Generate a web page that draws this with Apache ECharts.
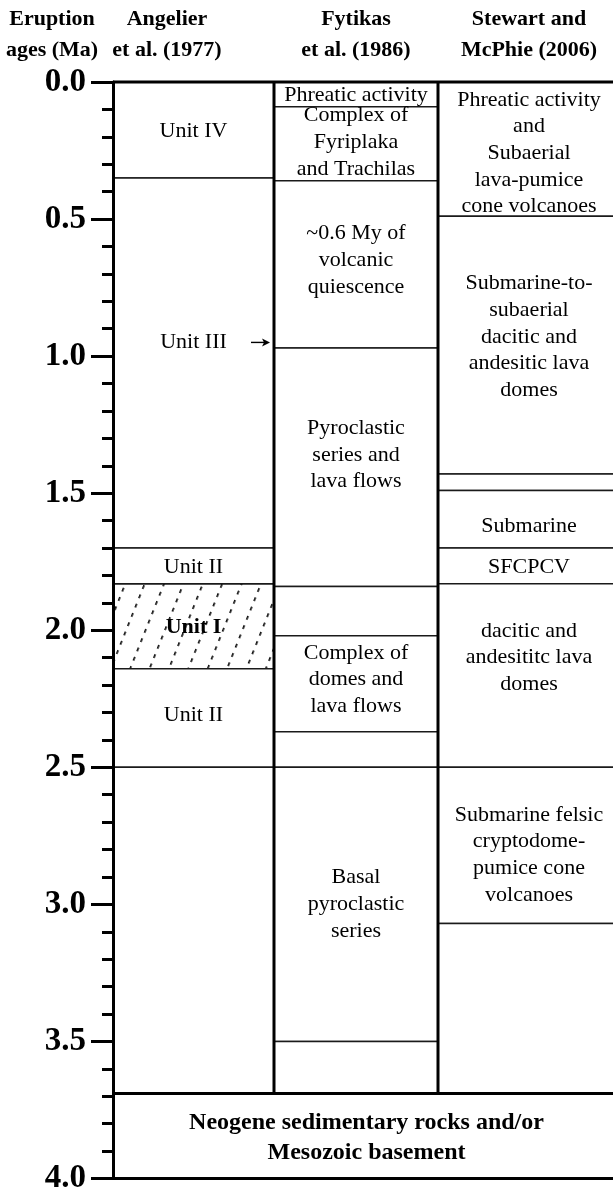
<!DOCTYPE html>
<html>
<head>
<meta charset="utf-8">
<script src="https://cdn.jsdelivr.net/npm/echarts@6.0.0/dist/echarts.min.js"></script>
<style>
  html, body { margin: 0; padding: 0; background: #fff; }
  #chart { width: 613px; height: 1195px; }
</style>
</head>
<body>
<div id="chart"></div>
<script>
// unit boundaries (Ma), top to bottom, one list per column
const angelierBounds = [0, 0.35, 1.7, 1.83, 2.14, 2.5, 3.69];
const fytikasBounds = [0, 0.09, 0.36, 0.97, 1.84, 2.02, 2.37, 2.5, 3.5, 3.69];
const stewartBounds = [0, 0.49, 1.43, 1.49, 1.7, 1.83, 2.5, 3.07, 3.69];
const basementRange = [3.69, 4.0];
const hatchedUnit = [1.83, 2.14]; // Unit I

// [age where the text is centred, text]
const angelierLabels = [
  [0.18, 'Unit IV'],
  [0.95, 'Unit III'],
  [1.77, 'Unit II'],
  [1.99, 'Unit I'],
  [2.31, 'Unit II']
];
const fytikasLabels = [
  [0.05, 'Phreatic activity'],
  [0.22, 'Complex of\nFyriplaka\nand Trachilas'],
  [0.65, '~0.6 My of\nvolcanic\nquiescence'],
  [1.36, 'Pyroclastic\nseries and\nlava flows'],
  [2.18, 'Complex of\ndomes and\nlava flows'],
  [3.0, 'Basal\npyroclastic\nseries']
];
const stewartLabels = [
  [0.26, 'Phreatic activity\nand\nSubaerial\nlava-pumice\ncone volcanoes'],
  [0.93, 'Submarine-to-\nsubaerial\ndacitic and\nandesitic lava\ndomes'],
  [1.62, 'Submarine'],
  [1.77, 'SFCPCV'],
  [2.10, 'dacitic and\nandesititc lava\ndomes'],
  [2.82, 'Submarine felsic\ncryptodome-\npumice cone\nvolcanoes']
];
const basementLabel = [3.85, 'Neogene sedimentary rocks and/or\nMesozoic basement'];

const headers = ['Eruption\nages (Ma)', 'Angelier\net al. (1977)', 'Fytikas\net al. (1986)', 'Stewart and\nMcPhie (2006)'];

// layout: column edges in px from the age axis (last one runs off the page), header centres in px
const COL_X = [0, 161, 325, 507];
const HEAD_X = [52, 167, 356, 529];
const FONT = '"Liberation Serif", "Times New Roman", serif';

// blocks: [colFrom, colTo, top, bottom, hatched]
const blocks = [];
[angelierBounds, fytikasBounds, stewartBounds].forEach((b, c) => {
  for (let i = 0; i < b.length - 1; i++) {
    const h = (c === 0 && b[i] === hatchedUnit[0] && b[i + 1] === hatchedUnit[1]) ? 1 : 0;
    blocks.push([c, c + 1, b[i], b[i + 1], h]);
  }
});
blocks.push([0, 3, basementRange[0], basementRange[1], 0]);

// labels: [colFrom, colTo, age], texts kept alongside
const labelData = [];
const labelText = [];
const labelBold = [];
[angelierLabels, fytikasLabels, stewartLabels].forEach((list, c) => {
  list.forEach(l => {
    labelData.push([c, c + 1, l[0]]);
    labelText.push(l[1]);
    labelBold.push(l[1] === 'Unit I');
  });
});
labelData.push([0, 3, basementLabel[0]]);
labelText.push(basementLabel[1]);
labelBold.push(true);

// thick frame lines: [colFrom, colTo, ageFrom, ageTo]
const base = basementRange[0];
const frame = [
  [0, 3, 0, 0],
  [1, 1, 0, base],
  [2, 2, 0, base],
  [0, 3, base, base],
  [0, 3, basementRange[1], basementRange[1]]
];

// dashed diagonal hatch for Unit I
const tile = document.createElement('canvas');
tile.width = 18;
tile.height = 10;
const tctx = tile.getContext('2d');
tctx.fillStyle = '#111';
tctx.fillRect(8, 0, 1.7, 4);
const hatch = { image: tile, repeat: 'repeat', rotation: 0.38 };

const chart = echarts.init(document.getElementById('chart'));
chart.setOption({
  animation: false,
  backgroundColor: '#fff',
  grid: { left: 113, top: 82, width: 500, height: 1101 },
  xAxis: { type: 'value', min: 0, max: 500, show: false },
  yAxis: {
    type: 'value',
    inverse: true,
    min: 0,
    max: 4,
    interval: 0.5,
    z: 10,
    axisLine: { show: true, lineStyle: { color: '#000', width: 3 } },
    axisTick: { show: true, length: 22, lineStyle: { color: '#000', width: 3 } },
    minorTick: { show: true, splitNumber: 5, length: 11, lineStyle: { color: '#000', width: 3 } },
    splitLine: { show: false },
    axisLabel: {
      margin: 27,
      color: '#000',
      fontFamily: FONT,
      fontWeight: 'bold',
      fontSize: 33,
      formatter: v => v.toFixed(1)
    }
  },
  graphic: headers.map((h, i) => ({
    type: 'text',
    x: HEAD_X[i],
    y: 35,
    style: {
      text: h,
      textAlign: 'center',
      textVerticalAlign: 'middle',
      fontFamily: FONT,
      fontWeight: 'bold',
      fontSize: 22,
      lineHeight: 31,
      fill: '#000'
    }
  })),
  series: [
    {
      type: 'custom',
      z: 1,
      data: blocks,
      renderItem: (params, api) => {
        const p0 = api.coord([COL_X[api.value(0)], api.value(2)]);
        const p1 = api.coord([COL_X[api.value(1)], api.value(3)]);
        return {
          type: 'rect',
          shape: { x: p0[0], y: p0[1], width: p1[0] - p0[0], height: p1[1] - p0[1] },
          style: { fill: api.value(4) ? hatch : '#fff', stroke: '#1a1a1a', lineWidth: 1.5 }
        };
      }
    },
    {
      type: 'custom',
      z: 3,
      data: labelData,
      renderItem: (params, api) => {
        const i = params.dataIndex;
        const c0 = api.value(0), c1 = api.value(1);
        const p = api.coord([(COL_X[c0] + COL_X[c1]) / 2, api.value(2)]);
        const basement = c1 - c0 > 1;
        const children = [{
          type: 'text',
          x: p[0],
          y: p[1],
          style: {
            text: labelText[i],
            textAlign: 'center',
            textVerticalAlign: 'middle',
            fontFamily: FONT,
            fontWeight: labelBold[i] ? 'bold' : 'normal',
            fontSize: basement ? 24 : 22,
            lineHeight: basement ? 30 : 26.7,
            fill: '#000'
          }
        }];
        if (labelText[i] === 'Unit III') {
          // small arrow pointing at the Fytikas column
          const pr = api.coord([COL_X[c1], api.value(2)]);
          const xe = pr[0] - 4, ym = pr[1];
          children.push({
            type: 'line',
            shape: { x1: xe - 19, y1: ym, x2: xe - 5, y2: ym },
            style: { stroke: '#000', lineWidth: 1.4 }
          });
          children.push({
            type: 'polygon',
            shape: { points: [[xe, ym], [xe - 8, ym - 4], [xe - 6, ym], [xe - 8, ym + 4]] },
            style: { fill: '#000' }
          });
        }
        return { type: 'group', children: children };
      }
    },
    {
      type: 'custom',
      z: 4,
      data: frame,
      renderItem: (params, api) => {
        const p0 = api.coord([COL_X[api.value(0)], api.value(2)]);
        const p1 = api.coord([COL_X[api.value(1)], api.value(3)]);
        return {
          type: 'line',
          shape: { x1: p0[0], y1: p0[1], x2: p1[0], y2: p1[1] },
          style: { stroke: '#000', lineWidth: 3 }
        };
      }
    }
  ]
});
</script>
</body>
</html>
